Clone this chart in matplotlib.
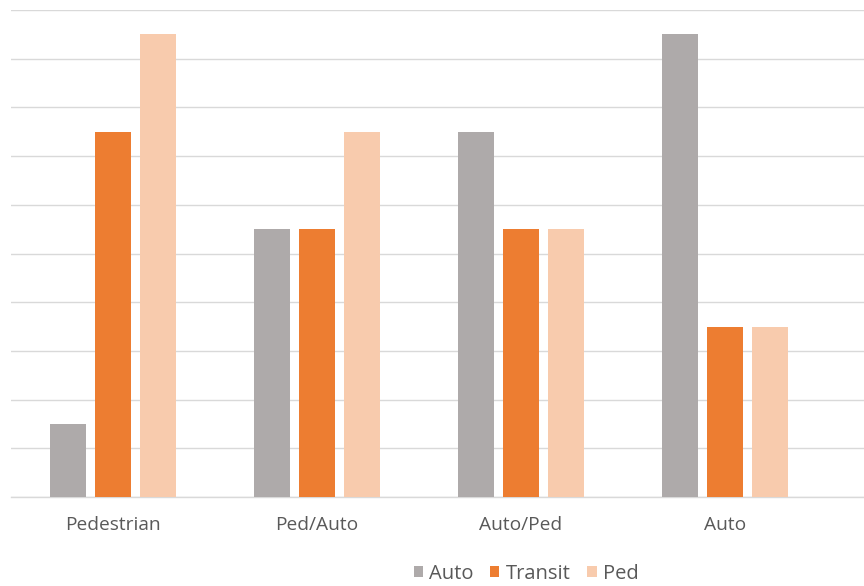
import matplotlib.pyplot as plt
import numpy as np
from matplotlib.patches import Patch

categories = ["Pedestrian", "Ped/Auto", "Auto/Ped", "Auto"]
series_names = ["Auto", "Transit", "Ped"]
auto_vals = [1.5, 5.5, 7.5, 9.5]
transit_vals = [7.5, 5.5, 5.5, 3.5]
ped_vals = [9.5, 7.5, 5.5, 3.5]
colors = ["#AEAAAA", "#ED7D31", "#F8CBAD"]

plt.rcParams['font.family'] = ['Open Sans', 'DejaVu Sans']

fig = plt.figure(figsize=(8.64, 5.86), dpi=100)
ax = fig.add_axes([11/864, 89/586, 853/864, 487/586])

x = np.arange(len(categories))
width = 0.176
offset = 0.222
for i, (vals, col) in enumerate(zip([auto_vals, transit_vals, ped_vals], colors)):
    ax.bar(x + (i - 1) * offset, vals, width=width, color=col, zorder=3)

ax.set_xlim(-0.5, -0.5 + 853/204)
ax.set_ylim(0, 10)
ax.set_yticks(np.arange(0, 11, 1))
ax.yaxis.grid(True, color="#D9D9D9", linewidth=1.0, zorder=0)
ax.tick_params(axis="y", left=False, labelleft=False)
ax.set_xticks(x)
ax.set_xticklabels(categories, fontsize=13.8, color="#595959")
ax.tick_params(axis="x", length=0, pad=14)
for s in ["top", "right", "left"]:
    ax.spines[s].set_visible(False)
ax.spines["bottom"].set_color("#D9D9D9")
ax.spines["bottom"].set_linewidth(1.0)

handles = [Patch(facecolor=c, edgecolor="none") for c in colors]
fig.legend(handles, series_names, loc="center", bbox_to_anchor=(526/864, 1 - 574/586),
           ncol=3, frameon=False, fontsize=14.5, labelcolor="#595959",
           handlelength=0.45, handleheight=0.45, handletextpad=0.3, columnspacing=0.85)

fig.savefig("out.png", dpi=100, facecolor="white")
